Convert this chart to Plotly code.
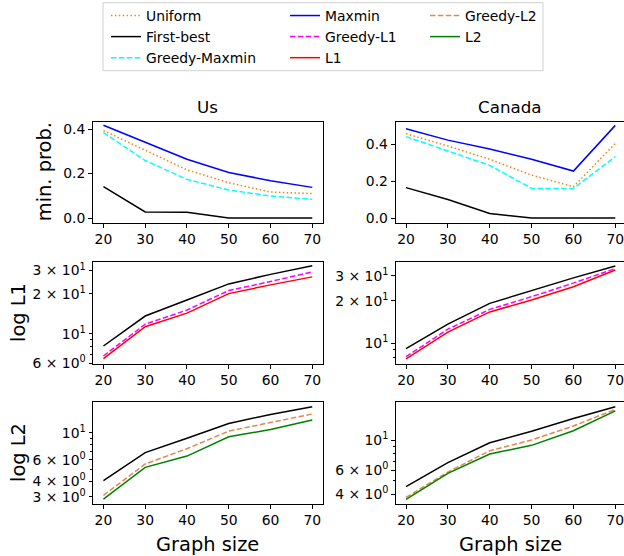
import plotly.graph_objects as go
from plotly.subplots import make_subplots

sizes = [20, 30, 40, 50, 60, 70]

# min. prob. (top row)
us_uniform = [0.394, 0.307, 0.217, 0.159, 0.117, 0.110]
us_first_best = [0.141, 0.027, 0.026, 0.0, 0.0, 0.0]
us_greedy_maxmin = [0.385, 0.259, 0.174, 0.126, 0.099, 0.084]
us_maxmin = [0.418, 0.340, 0.265, 0.205, 0.168, 0.138]

ca_uniform = [0.458, 0.391, 0.319, 0.233, 0.170, 0.405]
ca_first_best = [0.165, 0.101, 0.025, 0.0, 0.0, 0.0]
ca_greedy_maxmin = [0.442, 0.362, 0.286, 0.161, 0.161, 0.333]
ca_maxmin = [0.485, 0.423, 0.375, 0.319, 0.255, 0.503]

# L1 (middle row)
us_l1_first_best = [8.07, 13.6, 18.0, 23.8, 28.1, 32.6]
us_l1_greedy = [6.78, 11.8, 15.1, 21.2, 24.8, 29.3]
us_l1 = [6.47, 11.3, 14.3, 20.1, 23.4, 26.9]

ca_l1_first_best = [9.17, 13.7, 19.2, 23.7, 29.1, 35.3]
ca_l1_greedy = [8.04, 12.6, 17.4, 21.4, 26.7, 33.9]
ca_l1 = [7.78, 12.0, 16.7, 20.3, 25.2, 33.1]

# L2 (bottom row)
us_l2_first_best = [4.06, 6.87, 9.0, 11.9, 14.1, 16.3]
us_l2_greedy = [3.08, 5.55, 7.40, 10.3, 12.1, 14.2]
us_l2 = [2.87, 5.21, 6.44, 9.27, 10.6, 12.7]

ca_l2_first_best = [4.53, 6.81, 9.55, 11.6, 14.4, 17.6]
ca_l2_greedy = [3.78, 5.81, 8.34, 10.0, 12.7, 16.8]
ca_l2 = [3.65, 5.68, 7.89, 9.14, 11.7, 16.4]

col_titles = ["Us", "Canada"]
row_titles = ["min. prob.", "log L1", "log L2"]
x_title = "Graph size"

W, H = 624, 556
FONT = "DejaVu Sans"

styles = {
    "Uniform": dict(color="#ff7f0e", dash="1.5px,2.4px", legend="legend"),
    "First-best": dict(color="black", dash="solid", legend="legend"),
    "Greedy-Maxmin": dict(color="cyan", dash="5.5px,2.4px", legend="legend"),
    "Maxmin": dict(color="blue", dash="solid", legend="legend2"),
    "Greedy-L1": dict(color="magenta", dash="5.5px,2.4px", legend="legend2"),
    "L1": dict(color="red", dash="solid", legend="legend2"),
    "Greedy-L2": dict(color="#dd8a50", dash="5.5px,2.4px", legend="legend3"),
    "L2": dict(color="green", dash="solid", legend="legend3"),
}

fig = make_subplots(rows=3, cols=2)

shown = set()


def add(name, y, row, col):
    st = styles[name]
    show = name not in shown
    shown.add(name)
    fig.add_trace(
        go.Scatter(
            x=sizes, y=y, mode="lines", name=name,
            line=dict(color=st["color"], dash=st["dash"], width=1.5),
            showlegend=show, legend=st["legend"],
        ),
        row=row, col=col,
    )


panels = [
    (1, 1, [("Uniform", us_uniform), ("First-best", us_first_best),
            ("Greedy-Maxmin", us_greedy_maxmin), ("Maxmin", us_maxmin)]),
    (1, 2, [("Uniform", ca_uniform), ("First-best", ca_first_best),
            ("Greedy-Maxmin", ca_greedy_maxmin), ("Maxmin", ca_maxmin)]),
    (2, 1, [("First-best", us_l1_first_best), ("Greedy-L1", us_l1_greedy), ("L1", us_l1)]),
    (2, 2, [("First-best", ca_l1_first_best), ("Greedy-L1", ca_l1_greedy), ("L1", ca_l1)]),
    (3, 1, [("First-best", us_l2_first_best), ("Greedy-L2", us_l2_greedy), ("L2", us_l2)]),
    (3, 2, [("First-best", ca_l2_first_best), ("Greedy-L2", ca_l2_greedy), ("L2", ca_l2)]),
]
for r, c, series in panels:
    for name, y in series:
        add(name, y, r, c)

# pixel layout
col_px = [(93, 322.7), (395.7, 624)]
row_px = [(121.7, 222.7), (262.3, 363.7), (402.3, 503.7)]
x_ranges = [[17.5, 72.5], [17.54, 72.08]]


def sup(m, e):
    return f"{m} × 10<sup>{e}</sup>" if m != 1 else f"10<sup>{e}</sup>"


y_cfg = {
    (1, 1): dict(type="linear", range=[-0.0212, 0.434], tickvals=[0.0, 0.2, 0.4],
                 ticktext=["0.0", "0.2", "0.4"], minor=None),
    (1, 2): dict(type="linear", range=[-0.0253, 0.523], tickvals=[0.0, 0.2, 0.4],
                 ticktext=["0.0", "0.2", "0.4"], minor=None),
    (2, 1): dict(type="log", range=[0.773, 1.540], tickvals=[6, 10, 20, 30],
                 ticktext=[sup(6, 0), sup(1, 1), sup(2, 1), sup(3, 1)], minor=[7, 8, 9]),
    (2, 2): dict(type="log", range=[0.856, 1.574], tickvals=[10, 20, 30],
                 ticktext=[sup(1, 1), sup(2, 1), sup(3, 1)], minor=[8, 9]),
    (3, 1): dict(type="log", range=[0.420, 1.248], tickvals=[3, 4, 6, 10],
                 ticktext=[sup(3, 0), sup(4, 0), sup(6, 0), sup(1, 1)], minor=[5, 7, 8, 9]),
    (3, 2): dict(type="log", range=[0.531, 1.278], tickvals=[4, 6, 10],
                 ticktext=[sup(4, 0), sup(6, 0), sup(1, 1)], minor=[5, 7, 8, 9]),
}

tickfont = dict(family=FONT, size=13.9, color="black")
for r in range(1, 4):
    for c in range(1, 3):
        x0, x1 = col_px[c - 1]
        top, bot = row_px[r - 1]
        fig.update_xaxes(
            domain=[x0 / W, x1 / W], range=x_ranges[c - 1], automargin=False,
            tickvals=sizes, ticktext=[str(s) for s in sizes], ticklabeloverflow="allow",
            ticks="outside", ticklen=4, tickwidth=1, tickcolor="black",
            showline=True, linecolor="black", linewidth=1, mirror=True,
            showgrid=False, zeroline=False, tickfont=tickfont,
            row=r, col=c,
        )
        cfg = y_cfg[(r, c)]
        kw = dict(
            domain=[(H - bot) / H, (H - top) / H], type=cfg["type"], range=cfg["range"],
            automargin=False,
            tickmode="array", tickvals=cfg["tickvals"], ticktext=cfg["ticktext"],
            ticks="outside", ticklen=4 if cfg["type"] == "linear" else 3.5,
            tickwidth=1, tickcolor="black",
            showline=True, linecolor="black", linewidth=1,
            mirror=(c == 1), showgrid=False, zeroline=False, tickfont=tickfont,
        )
        if cfg["minor"]:
            kw["minor"] = dict(tickmode="array", tickvals=cfg["minor"], ticks="outside",
                               ticklen=2.2, tickwidth=0.8, tickcolor="black", showgrid=False)
        fig.update_yaxes(row=r, col=c, **kw)

annotations = []
for c, t in enumerate(col_titles):
    x0, x1 = col_px[c]
    annotations.append(dict(
        text=t, x=(x0 + x1) / 2 / W if c == 0 else 510 / W, y=(H - 107) / H,
        xref="paper", yref="paper",
        xanchor="center", yanchor="middle", showarrow=False,
        font=dict(family=FONT, size=16.7, color="black")))
ycent = [44, 18, 18]
for r, t in enumerate(row_titles):
    top, bot = row_px[r]
    annotations.append(dict(
        text=t, x=ycent[r] / W, y=(H - (top + bot) / 2) / H, xref="paper", yref="paper",
        xanchor="center", yanchor="middle", textangle=-90, showarrow=False,
        font=dict(family=FONT, size=19.4, color="black")))
for c in range(2):
    x0, x1 = col_px[c]
    annotations.append(dict(
        text=x_title, x=(x0 + x1) / 2 / W if c == 0 else 510 / W, y=(H - 544) / H,
        xref="paper", yref="paper", xanchor="center", yanchor="middle", showarrow=False,
        font=dict(family=FONT, size=19.4, color="black")))

leg_common = dict(
    font=dict(family=FONT, size=13.9, color="black"), bgcolor="rgba(0,0,0,0)",
    borderwidth=0, orientation="v", xanchor="left", yanchor="top",
    tracegroupgap=0, itemwidth=30,
)
legtop = 1 - 0 / H
fig.update_layout(
    width=W, height=H, margin=dict(l=0, r=0, t=0, b=0, autoexpand=False),
    plot_bgcolor="white", paper_bgcolor="white",
    font=dict(family=FONT, size=13.9, color="black"),
    annotations=annotations,
    legend=dict(x=106 / W, y=legtop, **leg_common),
    legend2=dict(x=285 / W, y=legtop, **leg_common),
    legend3=dict(x=425 / W, y=legtop, **leg_common),
    shapes=[dict(type="rect", xref="paper", yref="paper",
                 x0=103 / W, x1=543 / W, y0=1 - 70.7 / H, y1=1 - 2.7 / H,
                 line=dict(color="#d0d0d0", width=1), fillcolor="rgba(255,255,255,0.8)",
                 layer="below")],
)

fig.write_html(
    "out.html",
    config={"displayModeBar": False},
    post_script="document.body.style.margin='0';document.body.style.overflow='hidden';",
)
